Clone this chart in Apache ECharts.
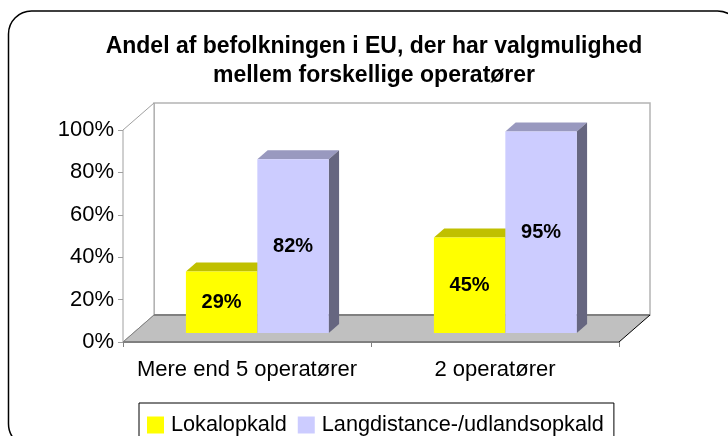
<!DOCTYPE html>
<html>
<head>
<meta charset="utf-8">
<script src="https://cdn.jsdelivr.net/npm/echarts@6/dist/echarts.min.js"></script>
<style>
  html, body { margin: 0; padding: 0; background: #fff; }
  #chart { width: 728px; height: 436px; }
</style>
</head>
<body>
<div id="chart"></div>
<script>
// data
const categories = ["Mere end 5 operatører", "2 operatører"]
const seriesNames = ["Lokalopkald", "Langdistance-/udlandsopkald"]
const lokalopkald = [29, 45]
const langdistance = [82, 95]
const yMin = 0
const yMax = 100
const yStep = 20

// fake 3D look, like the old Excel column chart
const DX = 31
const DY = 27
const BAR_FRAC = 0.288
const FONT = '"Liberation Sans", Arial, sans-serif'

const chart = echarts.init(document.getElementById("chart"), null, { renderer: "canvas" })

function frameItem(params, api) {
  const cs = params.coordSys
  const L = cs.x, R = cs.x + cs.width, T = cs.y, B = cs.y + cs.height
  const line = (x1, y1, x2, y2, color, w) => ({
    type: "line",
    shape: { x1, y1, x2, y2 },
    style: { stroke: color, lineWidth: w },
  })
  return {
    type: "group",
    children: [
      {
        type: "rect",
        shape: { x: L + DX, y: T - DY, width: cs.width, height: cs.height },
        style: { fill: "#fff", stroke: "#b4b4b4", lineWidth: 1.5 },
      },
      {
        type: "polygon",
        shape: { points: [[L, T], [L + DX, T - DY], [L + DX, B - DY], [L, B]] },
        style: { fill: "#fff", stroke: "#a0a0a0", lineWidth: 1 },
      },
      {
        type: "polygon",
        shape: { points: [[L, B], [R, B], [R + DX, B - DY], [L + DX, B - DY]] },
        style: { fill: "#c0c0c0" },
      },
      line(L + DX, B - DY, R + DX, B - DY, "#808080", 2),
      line(L, B, L + DX, B - DY, "#808080", 1),
      line(R, B, R + DX, B - DY, "#000", 1),
      line(L, B, R, B, "#808080", 2),
    ],
  }
}

function barItem(si, front, top, side) {
  return function (params, api) {
    const ci = api.value(0)
    const v = api.value(1)
    const base = api.coord([ci, 0])
    const yt = api.coord([ci, v])[1]
    const bw = api.size([1, 0])[0] * BAR_FRAC
    const ox = DX / 3, oy = -DY / 3
    const x1 = base[0] - bw + si * bw + ox
    const x2 = x1 + bw
    const y1 = yt + oy
    const y2 = base[1] + oy
    return {
      type: "group",
      children: [
        {
          type: "polygon",
          shape: { points: [[x1, y1], [x2, y1], [x2 + ox, y1 + oy], [x1 + ox, y1 + oy]] },
          style: { fill: top },
        },
        {
          type: "polygon",
          shape: { points: [[x2, y1], [x2 + ox, y1 + oy], [x2 + ox, y2 + oy], [x2, y2]] },
          style: { fill: side },
        },
        {
          type: "rect",
          shape: { x: x1, y: y1, width: bw, height: y2 - y1 },
          style: { fill: front },
        },
        {
          type: "text",
          x: (x1 + x2) / 2,
          y: (y1 + y2) / 2,
          style: {
            text: v + "%",
            fill: "#000",
            font: "bold 20px " + FONT,
            align: "center",
            verticalAlign: "middle",
          },
        },
      ],
    }
  }
}

chart.setOption({
  animation: false,
  backgroundColor: "#fff",
  title: {
    text: "Andel af befolkningen i EU, der har valgmulighed\nmellem forskellige operatører",
    left: 374,
    textAlign: "center",
    top: 32,
    padding: 0,
    textStyle: { fontFamily: FONT, fontSize: 23, fontWeight: "bold", lineHeight: 29, color: "#000" },
  },
  graphic: [
    {
      type: "rect",
      z: -10,
      shape: { x: 8.5, y: 11, width: 732, height: 436, r: 23 },
      style: { fill: "none", stroke: "#000", lineWidth: 1.5 },
    },
  ],
  legend: {
    data: seriesNames,
    left: 139,
    top: 403,
    icon: "rect",
    itemWidth: 17,
    itemHeight: 17,
    itemGap: 11,
    selectedMode: false,
    borderColor: "#000",
    borderWidth: 1,
    padding: [11, 10, 20, 8],
    textStyle: { fontFamily: FONT, fontSize: 21.7, color: "#000", padding: [0, 0, 0, 2] },
  },
  grid: { left: 123, right: 109, top: 130, bottom: 94, outerBoundsMode: "none" },
  xAxis: {
    type: "category",
    data: categories,
    axisLine: { show: false },
    axisTick: { show: true, length: 5, lineStyle: { color: "#808080" } },
    axisLabel: { interval: 0, fontFamily: FONT, fontSize: 22, color: "#000", margin: 17 },
    splitLine: { show: false },
  },
  yAxis: {
    type: "value",
    min: yMin,
    max: yMax,
    interval: yStep,
    axisLine: { show: true, lineStyle: { color: "#a0a0a0", width: 1 } },
    axisTick: { show: true, length: 5, lineStyle: { color: "#a0a0a0" } },
    axisLabel: { formatter: "{value}%", fontFamily: FONT, fontSize: 22, color: "#000", margin: 9 },
    splitLine: { show: false },
  },
  series: [
    {
      type: "custom",
      silent: true,
      z: 1,
      renderItem: frameItem,
      data: [[0, 0]],
    },
    {
      type: "custom",
      name: seriesNames[0],
      z: 3,
      itemStyle: { color: "#ffff00" },
      renderItem: barItem(0, "#ffff00", "#c0c000", "#808000"),
      data: lokalopkald.map((v, i) => [i, v]),
    },
    {
      type: "custom",
      name: seriesNames[1],
      z: 3,
      itemStyle: { color: "#ccccff" },
      renderItem: barItem(1, "#ccccff", "#9999bf", "#666680"),
      data: langdistance.map((v, i) => [i, v]),
    },
  ],
})
</script>
</body>
</html>
